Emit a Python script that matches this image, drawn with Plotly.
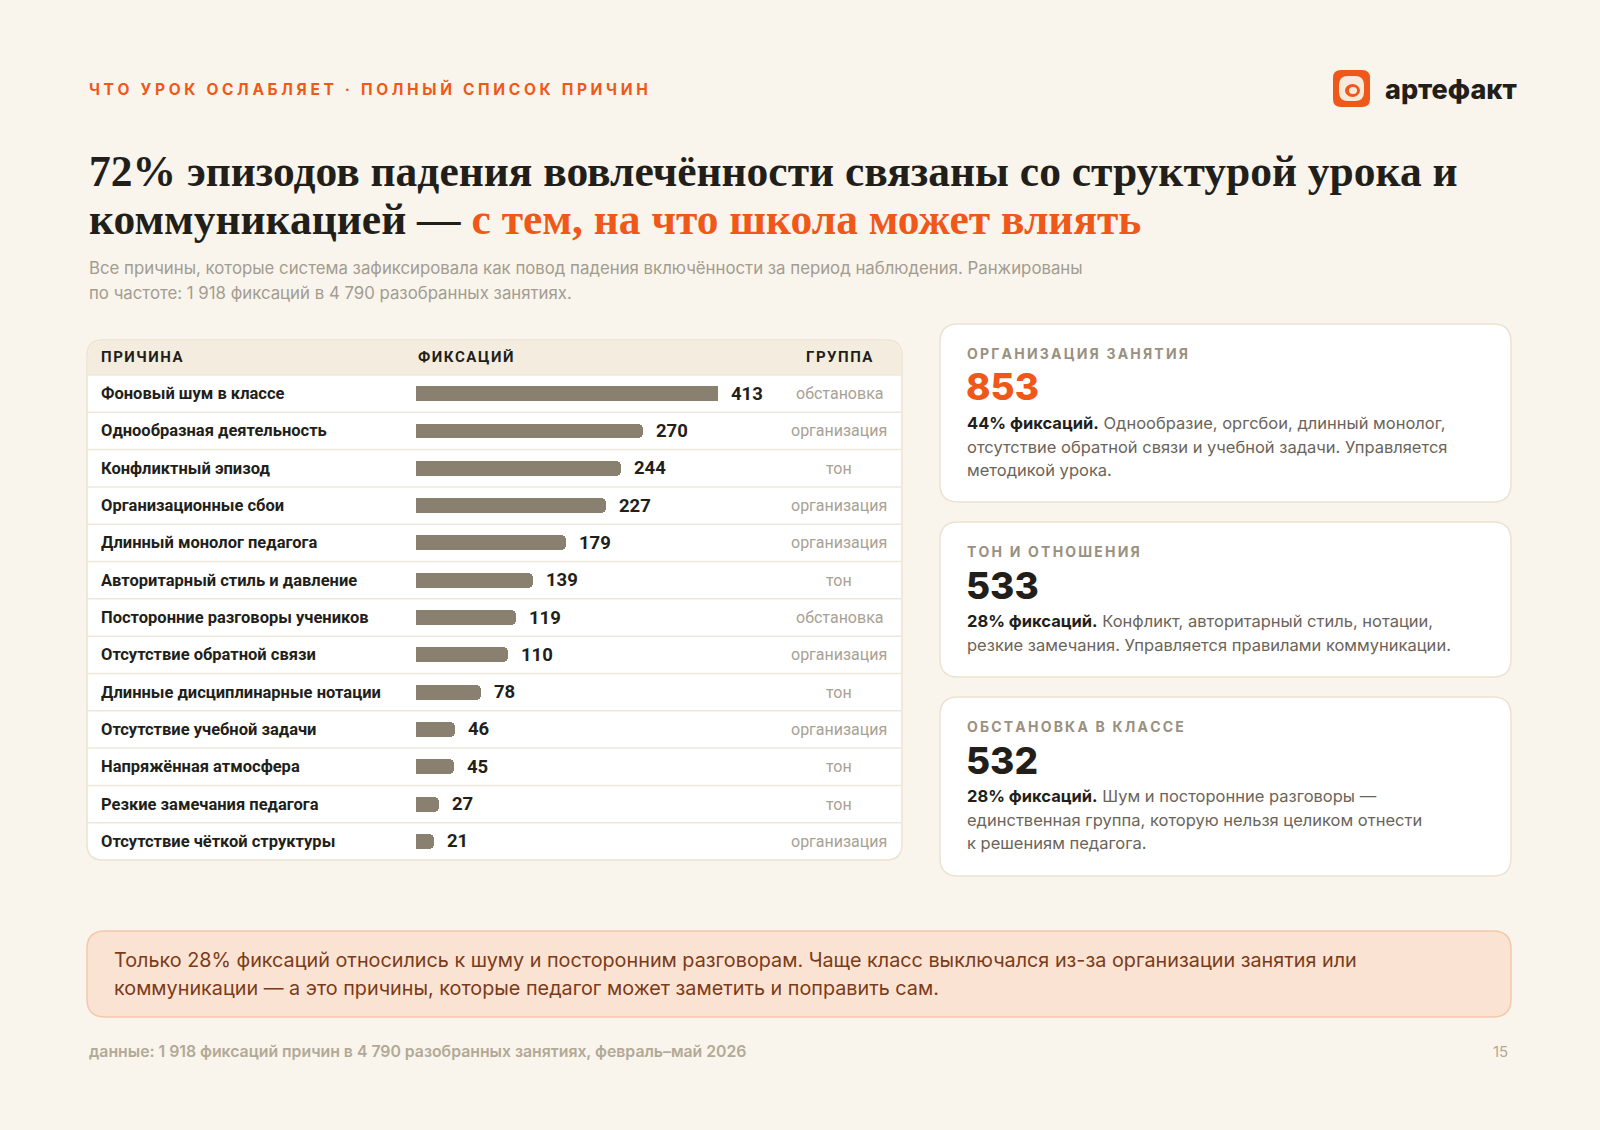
import plotly.graph_objects as go

W, H = 1600, 1130

# --- données ---
reasons = [
    "Фоновый шум в классе", "Однообразная деятельность", "Конфликтный эпизод",
    "Организационные сбои", "Длинный монолог педагога", "Авторитарный стиль и давление",
    "Посторонние разговоры учеников", "Отсутствие обратной связи",
    "Длинные дисциплинарные нотации", "Отсутствие учебной задачи",
    "Напряжённая атмосфера", "Резкие замечания педагога", "Отсутствие чёткой структуры",
]
counts = [413, 270, 244, 227, 179, 139, 119, 110, 78, 46, 45, 27, 21]
groups = [
    "обстановка", "организация", "тон", "организация", "организация", "тон",
    "обстановка", "организация", "тон", "организация", "тон", "тон", "организация",
]
group_titles = ["ОРГАНИЗАЦИЯ ЗАНЯТИЯ", "ТОН И ОТНОШЕНИЯ", "ОБСТАНОВКА В КЛАССЕ"]
group_totals = [853, 533, 532]
group_shares = [44, 28, 28]
group_notes = [
    ["Однообразие, оргсбои, длинный монолог,",
     "отсутствие обратной связи и учебной задачи. Управляется",
     "методикой урока."],
    ["Конфликт, авторитарный стиль, нотации,",
     "резкие замечания. Управляется правилами коммуникации."],
    ["Шум и посторонние разговоры —",
     "единственная группа, которую нельзя целиком отнести",
     "к решениям педагога."],
]

# échelle des barres : la plus longue est coupée au bord de la colonne
BAR_MAX = 360

# --- couleurs ---
BG = "#f9f5ec"
ORANGE = "#f0581a"
DARK = "#221e1a"
GREY = "#a39c90"
BAR = "#8a8070"
BORDER = "#ebe3d2"

SANS = "Inter"
COND = "Roboto"
SERIF = "Liberation Serif"


def px(x):
    return x / W


def py(y):
    return 1 - y / H


def rrect(x0, y0, x1, y1, r, top_only=False):
    """chemin de rectangle arrondi en coordonnées papier"""
    rb = 0 if top_only else r
    pts = [
        f"M {px(x0 + r)} {py(y0)}",
        f"L {px(x1 - r)} {py(y0)}",
        f"Q {px(x1)} {py(y0)} {px(x1)} {py(y0 + r)}",
        f"L {px(x1)} {py(y1 - rb)}",
        f"Q {px(x1)} {py(y1)} {px(x1 - rb)} {py(y1)}",
        f"L {px(x0 + rb)} {py(y1)}",
        f"Q {px(x0)} {py(y1)} {px(x0)} {py(y1 - rb)}",
        f"L {px(x0)} {py(y0 + r)}",
        f"Q {px(x0)} {py(y0)} {px(x0 + r)} {py(y0)} Z",
    ]
    return " ".join(pts)


def spaced(s, sep="\u2009"):
    return sep.join(s)


shapes = []
annotations = []


def text(x, y, s, size, color, family=SANS, weight=400, anchor="left"):
    annotations.append(dict(
        x=px(x), y=py(y), xref="paper", yref="paper", text=s, showarrow=False,
        xanchor=anchor, yanchor="middle", align=anchor,
        font=dict(family=family, size=size, color=color, weight=weight),
    ))


# --- en-tête ---
text(87, 89, spaced("ЧТО УРОК ОСЛАБЛЯЕТ · ПОЛНЫЙ СПИСОК ПРИЧИН", "\u2009\u200a"), 15.5, ORANGE, weight=700)

# logo
shapes.append(dict(type="path", xref="paper", yref="paper", path=rrect(1333, 70, 1370, 107, 8),
                   fillcolor=ORANGE, line=dict(width=0)))
shapes.append(dict(type="path", xref="paper", yref="paper",
                   path=rrect(1339, 76, 1364, 101, 9), fillcolor="#f7e9dc", line=dict(width=0)))
shapes.append(dict(type="circle", xref="paper", yref="paper",
                   x0=px(1345), x1=px(1360), y0=py(84), y1=py(97),
                   fillcolor=ORANGE, line=dict(width=0)))
shapes.append(dict(type="circle", xref="paper", yref="paper",
                   x0=px(1349), x1=px(1357), y0=py(87), y1=py(94),
                   fillcolor="#f7e9dc", line=dict(width=0)))
text(1383, 89, "артефакт", 27, DARK, weight=800)

# titre
text(87, 171, "72% эпизодов падения вовлечённости связаны со структурой урока и",
     43.5, DARK, family=SERIF, weight=700)
text(87, 219, f"коммуникацией — <span style='color:{ORANGE}'>с тем, на что школа может влиять</span>",
     43.5, DARK, family=SERIF, weight=700)

text(87, 268, "Все причины, которые система зафиксировала как повод падения включённости "
              "за период наблюдения. Ранжированы", 16.8, GREY)
text(87, 293, "по частоте: 1 918 фиксаций в 4 790 разобранных занятиях.", 16.8, GREY)

# --- tableau ---
T_X0, T_X1, T_Y0, T_HEAD, T_Y1 = 87, 902, 340, 375, 860
shapes.append(dict(type="path", xref="paper", yref="paper", path=rrect(T_X0, T_Y0, T_X1, T_Y1, 16),
                   fillcolor="#ffffff", line=dict(color=BORDER, width=1.5), layer="below"))
shapes.append(dict(type="path", xref="paper", yref="paper",
                   path=rrect(T_X0 + 1, T_Y0 + 1, T_X1 - 1, T_HEAD, 15, top_only=True),
                   fillcolor="#f4eddf", line=dict(width=0), layer="below"))
row_h = (T_Y1 - T_HEAD) / len(reasons)
for i in range(0, len(reasons)):
    yy = T_HEAD + row_h * i
    shapes.append(dict(type="line", xref="paper", yref="paper", x0=px(T_X0), x1=px(T_X1),
                       y0=py(yy), y1=py(yy), line=dict(color="#efe8da", width=1.5), layer="below"))

text(99, 357, spaced("ПРИЧИНА", "\u200a"), 15, DARK, family=COND, weight=700)
text(416, 357, spaced("ФИКСАЦИЙ", "\u200a"), 15, DARK, family=COND, weight=700)
text(839, 357, spaced("ГРУППА", "\u200a"), 15, DARK, family=COND, weight=700, anchor="center")

for r, c, g in zip(reasons, counts, groups):
    annotations.append(dict(x=px(99), y=r, xref="paper", yref="y", text=r, showarrow=False,
                            xanchor="left", yanchor="middle",
                            font=dict(family=COND, size=16.5, color=DARK, weight=700)))
    annotations.append(dict(x=min(c, BAR_MAX), y=r, xref="x", yref="y", text=str(c), showarrow=False,
                            xanchor="left", yanchor="middle", xshift=11,
                            font=dict(family=COND, size=18.5, color=DARK, weight=700)))
    annotations.append(dict(x=px(839), y=r, xref="paper", yref="y", text=g, showarrow=False,
                            xanchor="center", yanchor="middle",
                            font=dict(family=COND, size=16, color="#a8a194")))

fig = go.Figure(go.Bar(
    x=counts, y=reasons, orientation="h", width=0.4,
    marker=dict(color=BAR, cornerradius=5, line=dict(width=0)),
    hoverinfo="skip",
))

# --- cartes de groupes ---
cards = [(324, 502), (522, 677), (697, 876)]
for k, (cy0, cy1) in enumerate(cards):
    shapes.append(dict(type="path", xref="paper", yref="paper", path=rrect(940, cy0, 1511, cy1, 18),
                       fillcolor="#ffffff", line=dict(color=BORDER, width=1.5), layer="below"))
    text(965, cy0 + 29, spaced(group_titles[k]), 14, "#9a907f", weight=700)
    num_color = ORANGE if k == 0 else DARK
    text(964, cy0 + 63, str(group_totals[k]), 37, num_color, weight=800)
    lines = group_notes[k]
    for j, ln in enumerate(lines):
        s = f"<span style='color:{DARK}'><b>{group_shares[k]}% фиксаций.</b></span> {ln}" if j == 0 else ln
        text(965, cy0 + 99 + 23.5 * j, s, 16.5, "#6b6459")

# --- encadré ---
shapes.append(dict(type="path", xref="paper", yref="paper", path=rrect(87, 931, 1511, 1017, 18),
                   fillcolor="#fbe3d3", line=dict(color="#f4c7a9", width=1.5), layer="below"))
text(112, 960, "Только 28% фиксаций относились к шуму и посторонним разговорам. Чаще класс "
               "выключался из-за организации занятия или", 19.8, "#7a3b19")
text(112, 988, "коммуникации — а это причины, которые педагог может заметить и поправить сам.",
     19.8, "#7a3b19")

# --- pied de page ---
text(87, 1051, "данные: 1 918 фиксаций причин в 4 790 разобранных занятиях, февраль–май 2026",
     15.8, "#b2a996", weight=600)
text(1510, 1051, "15", 15, "#b2a996", anchor="right")

fig.update_layout(
    width=W, height=H,
    margin=dict(l=0, r=0, t=0, b=0),
    paper_bgcolor=BG, plot_bgcolor="rgba(0,0,0,0)",
    showlegend=False,
    shapes=shapes, annotations=annotations,
    xaxis=dict(domain=[px(416), px(718)], range=[0, BAR_MAX], visible=False, fixedrange=True),
    yaxis=dict(domain=[py(T_Y1), py(T_HEAD)], range=[len(reasons) - 0.5, -0.5],
               visible=False, fixedrange=True, type="category"),
    bargap=0,
)

fig.write_html("out.html", config={"displayModeBar": False},
               post_script="document.body.style.margin='0';")
